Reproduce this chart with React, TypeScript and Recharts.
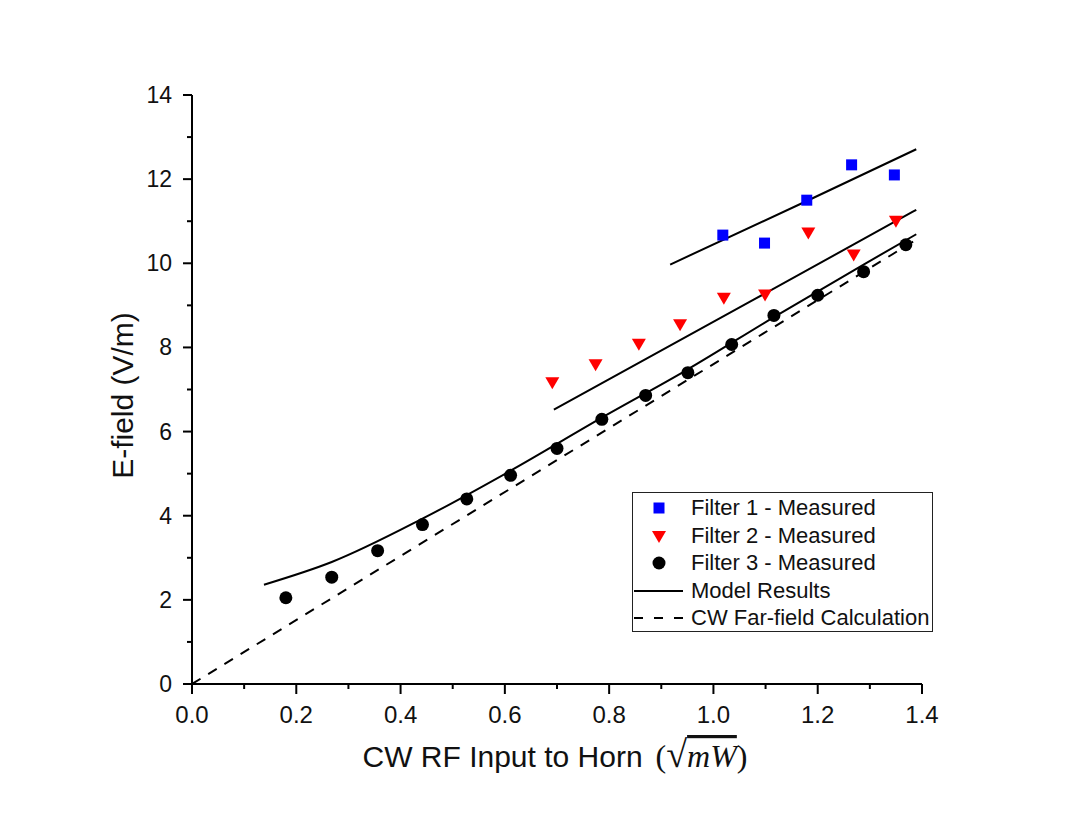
import { ComposedChart, Label, Line, Scatter, XAxis, YAxis } from 'recharts'

// values
const filter1X = [1.018, 1.098, 1.179, 1.265, 1.347]
const filter1Y = [10.67, 10.48, 11.5, 12.34, 12.1]

const filter2X = [0.691, 0.774, 0.857, 0.936, 1.02, 1.099, 1.182, 1.269, 1.35]
const filter2Y = [7.17, 7.6, 8.09, 8.55, 9.18, 9.26, 10.73, 10.21, 11.01]

const filter3X = [0.18, 0.268, 0.356, 0.442, 0.527, 0.611, 0.7, 0.786, 0.87, 0.951, 1.035, 1.116, 1.2, 1.288, 1.369]
const filter3Y = [2.05, 2.54, 3.17, 3.79, 4.4, 4.96, 5.6, 6.29, 6.86, 7.4, 8.07, 8.76, 9.24, 9.8, 10.44]

const model1X = [0.917, 1.179, 1.389]
const model1Y = [9.97, 11.48, 12.71]

const model2X = [0.694, 1.078, 1.389]
const model2Y = [6.52, 9.14, 11.27]

const model3X = [0.138, 0.268, 0.442, 0.611, 0.786, 0.951, 1.116, 1.288, 1.389]
const model3Y = [2.36, 2.9, 3.93, 5.07, 6.33, 7.48, 8.72, 9.97, 10.69]

const farFieldX = [0, 1.39]
const farFieldY = [0, 10.57]

const xTicks = [0, 0.1, 0.2, 0.3, 0.4, 0.5, 0.6, 0.7, 0.8, 0.9, 1.0, 1.1, 1.2, 1.3, 1.4]
const yTicks = [0, 1, 2, 3, 4, 5, 6, 7, 8, 9, 10, 11, 12, 13, 14]

const legendItems = [
  'Filter 1 - Measured',
  'Filter 2 - Measured',
  'Filter 3 - Measured',
  'Model Results',
  'CW Far-field Calculation',
]

const zip = (xs: number[], ys: number[]) => xs.map((x, i) => ({ x, y: ys[i] }))

const SANS = '"Liberation Sans", Arial, sans-serif'
const SERIF = '"Liberation Serif", "DejaVu Serif", serif'

const Square = ({ cx, cy }: any) => <rect x={cx - 5.5} y={cy - 5.5} width={11} height={11} fill="#0000ff" />
const Triangle = ({ cx, cy }: any) => (
  <polygon points={`${cx - 7},${cy - 5} ${cx + 7},${cy - 5} ${cx},${cy + 7}`} fill="#ff0000" />
)
const Dot = ({ cx, cy }: any) => <circle cx={cx} cy={cy} r={6.5} fill="#000" />

const YTick = ({ x, y, payload }: any) => {
  const v = payload.value
  const major = v % 2 === 0
  return (
    <g>
      <line x1={x} x2={x - (major ? 9 : 5)} y1={y} y2={y} stroke="#000" strokeWidth={2} />
      {major && (
        <text x={x - 20} y={y} textAnchor="end" dominantBaseline="central" fontSize={23} fontFamily={SANS} fill="#111">
          {v}
        </text>
      )}
    </g>
  )
}

const XTick = ({ x, y, payload }: any) => {
  const v = payload.value
  const major = Math.round(v * 10) % 2 === 0
  return (
    <g>
      <line x1={x} x2={x} y1={y} y2={y + (major ? 10 : 5)} stroke="#000" strokeWidth={2} />
      {major && (
        <text x={x} y={y + 39} textAnchor="middle" fontSize={24} fontFamily={SANS} fill="#111">
          {v.toFixed(1)}
        </text>
      )}
    </g>
  )
}

const XTitle = ({ viewBox }: any) => {
  const cx = viewBox.x + viewBox.width / 2
  return (
    <text x={cx - 2} y={viewBox.y + 83} textAnchor="middle" fill="#111">
      <tspan fontFamily={SANS} fontSize={30}>CW RF Input to Horn</tspan>
      <tspan dx={13} fontFamily={SERIF} fontSize={32}>
        (<tspan fontSize={38}>√</tspan>
        <tspan fontStyle="italic" style={{ textDecoration: 'overline' }}>mW</tspan>)
      </tspan>
    </text>
  )
}

const YTitle = ({ viewBox }: any) => {
  const cx = viewBox.x + 10
  const cy = viewBox.y + viewBox.height / 2 + 6
  return (
    <text
      x={cx}
      y={cy}
      transform={`rotate(-90 ${cx} ${cy})`}
      textAnchor="middle"
      dominantBaseline="central"
      fontFamily={SANS}
      fontSize={30}
      fill="#111"
    >
      E-field (V/m)
    </text>
  )
}

const LegendSymbol = ({ index }: { index: number }) => {
  if (index === 0) return <rect x={20.5} y={8.5} width={11} height={11} fill="#0000ff" />
  if (index === 1) return <polygon points="19,9 33,9 26,21" fill="#ff0000" />
  if (index === 2) return <circle cx={26} cy={14} r={6.5} fill="#000" />
  if (index === 3) return <line x1={1} x2={50} y1={14} y2={14} stroke="#000" strokeWidth={2} />
  return <line x1={1} x2={50} y1={14} y2={14} stroke="#000" strokeWidth={2} strokeDasharray="9 11" />
}

function ChartLegend() {
  return (
    <div
      style={{
        position: 'absolute',
        left: 624,
        top: 484,
        width: 301,
        height: 140,
        boxSizing: 'border-box',
        border: '1.5px solid #222',
        background: '#fff',
      }}
    >
      {legendItems.map((name, i) => (
        <div key={name} style={{ position: 'absolute', left: 0, top: 1 + i * 27.5, height: 28, width: 300 }}>
          <svg width={55} height={28} style={{ position: 'absolute', left: 0, top: 0 }}>
            <LegendSymbol index={i} />
          </svg>
          <span
            style={{
              position: 'absolute',
              left: 58,
              top: 1,
              fontFamily: SANS,
              fontSize: 22,
              lineHeight: '26px',
              color: '#111',
              whiteSpace: 'nowrap',
            }}
          >
            {name}
          </span>
        </div>
      ))}
    </div>
  )
}

export default function App() {
  return (
    <div style={{ position: 'relative', width: 1056, height: 805, background: '#fff' }}>
      <ComposedChart width={1056} height={805} margin={{ top: 87, right: 142, bottom: 49, left: 104 }}>
        <XAxis
          type="number"
          dataKey="x"
          domain={[0, 1.4]}
          ticks={xTicks}
          interval={0}
          height={80}
          tickSize={0}
          tickMargin={0}
          tickLine={false}
          tick={XTick}
          axisLine={{ stroke: '#000', strokeWidth: 2 }}
          allowDataOverflow
        >
          <Label content={XTitle} />
        </XAxis>
        <YAxis
          type="number"
          dataKey="y"
          domain={[0, 14]}
          ticks={yTicks}
          interval={0}
          width={80}
          tickSize={0}
          tickMargin={0}
          tickLine={false}
          tick={YTick}
          axisLine={{ stroke: '#000', strokeWidth: 2 }}
          allowDataOverflow
        >
          <Label content={YTitle} />
        </YAxis>
        <Line
          data={zip(farFieldX, farFieldY)}
          dataKey="y"
          type="linear"
          stroke="#000"
          strokeWidth={2}
          strokeDasharray="10 9"
          dot={false}
          activeDot={false}
          isAnimationActive={false}
        />
        <Line
          data={zip(model3X, model3Y)}
          dataKey="y"
          type="monotone"
          stroke="#000"
          strokeWidth={2}
          dot={false}
          activeDot={false}
          isAnimationActive={false}
        />
        <Line
          data={zip(model2X, model2Y)}
          dataKey="y"
          type="monotone"
          stroke="#000"
          strokeWidth={2}
          dot={false}
          activeDot={false}
          isAnimationActive={false}
        />
        <Line
          data={zip(model1X, model1Y)}
          dataKey="y"
          type="monotone"
          stroke="#000"
          strokeWidth={2}
          dot={false}
          activeDot={false}
          isAnimationActive={false}
        />
        <Scatter data={zip(filter3X, filter3Y)} fill="#000" shape={Dot} isAnimationActive={false} />
        <Scatter data={zip(filter2X, filter2Y)} fill="#ff0000" shape={Triangle} isAnimationActive={false} />
        <Scatter data={zip(filter1X, filter1Y)} fill="#0000ff" shape={Square} isAnimationActive={false} />
      </ComposedChart>
      <ChartLegend />
    </div>
  )
}
